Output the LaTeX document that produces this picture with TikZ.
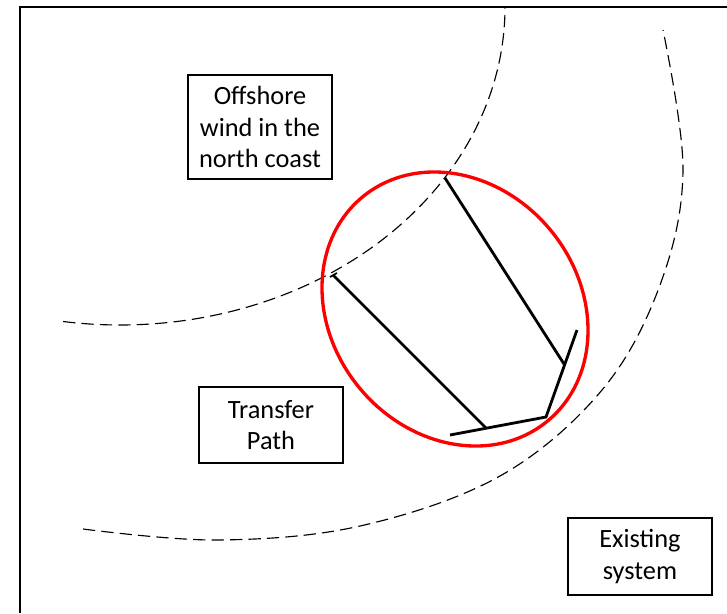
\documentclass[tikz,border=0pt]{standalone}
\usepackage{fontspec}
\setmainfont{Carlito}
\usetikzlibrary{positioning}

\begin{document}
\begin{tikzpicture}[
    x=0.02cm, y=-0.02cm,
    region/.style={draw, line width=0.8pt, rectangle, minimum width=2.88cm, align=center, inner sep=2pt, font=\fontsize{15}{18}\selectfont},
    boundary/.style={line width=0.65pt, dash pattern=on 7pt off 3.5pt},
    link/.style={line width=1.6pt},
  ]
    \useasboundingbox (0,0) rectangle (727,613);
    \draw[line width=0.8pt] (20,613) -- (20,7) -- (727,7);

    \node[region, minimum height=2.08cm] (offshore) at (260,127) {Offshore\\wind in the\\north coast};
    \node[region, minimum height=1.52cm] (transfer) at (271,425) {Transfer\\Path};
    \node[region, minimum height=1.54cm] (existing) at (640,556.5) {Existing\\system};

    % zone boundaries
    \draw[boundary] (120,7) ++(98.5:385 and 318) arc[start angle=98.5, end angle=0, x radius=385, y radius=318];
    \draw[boundary] plot[smooth, tension=0.6] coordinates {(83,529) (217,540) (360,526) (500,476) (602,390) (660,285) (683,170) (663,30)};

    % lines across the transfer path
    \coordinate (top1) at (445,178);
    \coordinate (end1) at (564,364);
    \coordinate (top2) at (333,275);
    \coordinate (end2) at (486,428);
    \coordinate (busA) at (450,435);
    \coordinate (busB) at (546,417);
    \coordinate (busC) at (577,330);
    \coordinate (tickA) at (330,277);
    \coordinate (tickB) at (337,273);

    \draw[link] (top1) -- (end1);
    \draw[link] (top2) -- (end2);
    \draw[link] (busA) -- (busB) -- (busC);
    \draw[line width=1pt] (tickA) -- (tickB);

    \draw[red, line width=1.9pt, rotate around={-50.4:(455,309)}] (455,309) ellipse [x radius=145.3, y radius=123.9];
  \end{tikzpicture}
\end{document}
